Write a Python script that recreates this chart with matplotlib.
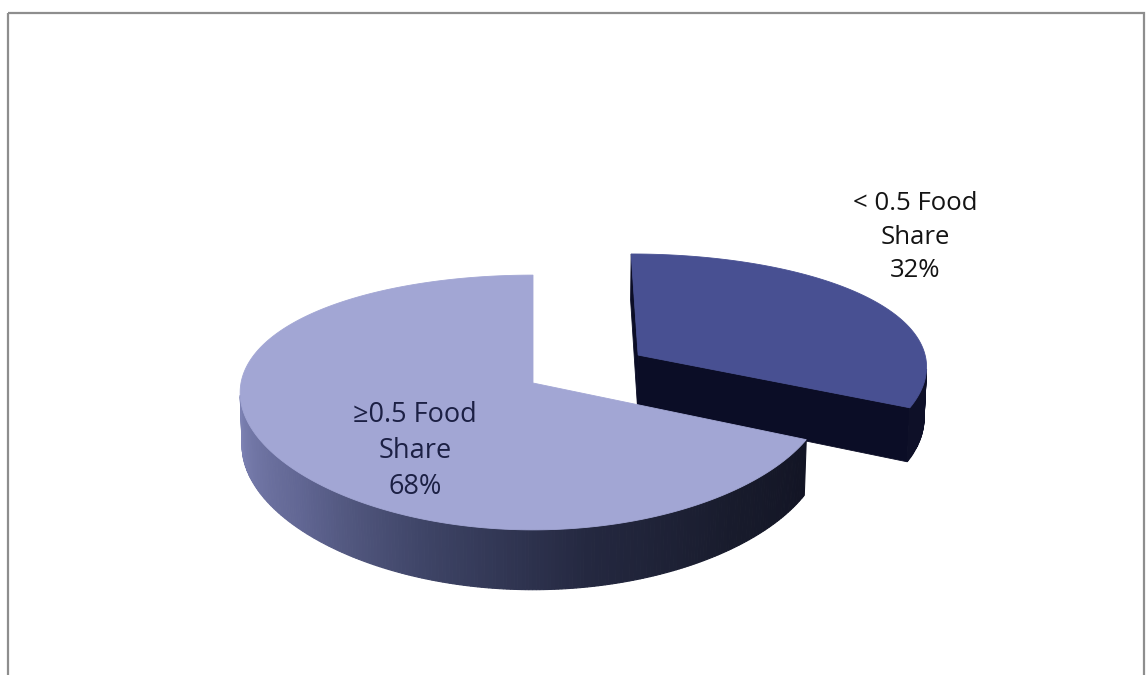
import numpy as np
import matplotlib
matplotlib.use("Agg")
import matplotlib.pyplot as plt
from matplotlib.patches import Polygon, Rectangle

# ---------------- data ----------------
categories = ["< 0.5 Food\nShare", "≥0.5 Food\nShare"]
shares = [32, 68]
pct_labels = ["32%", "68%"]
explode = [0.434, 0.0]

# ---------------- style ----------------
top_colors = [(72, 80, 146), (162, 166, 212)]
cut_colors = [(11, 13, 38), (30, 34, 60)]
# side shading stops (angle in degrees -> colour) per slice
shade_angles = [-270, -190, -180, -140, -110, -80, -50, -25, 90]
shade_cols = [
    [(14, 16, 40)] * 9,
    [(140, 145, 195), (140, 145, 195), (130, 135, 185), (98, 103, 148), (62, 68, 102),
     (36, 40, 64), (24, 27, 44), (18, 20, 36), (18, 20, 36)],
]
label_xy = [(915, 237), (415, 451)]
label_colors = ["#141414", "#1c2044"]
label_sizes = [18.5, 19.5]
label_spacing = [1.46, 1.40]

W, H = 1147, 675
fig = plt.figure(figsize=(W / 100, H / 100), dpi=100)
ax = fig.add_axes([0, 0, 1, 1])
ax.set_xlim(0, W)
ax.set_ylim(H, 0)
ax.axis("off")

# camera / projection
elev = np.deg2rad(24.5)
D = 5.95
fY = 1785.0
Rx = 292.0
px = 0.5
X0, Y0 = 533.0, 383.0
h = 0.196
ce, se = np.cos(elev), np.sin(elev)
C = np.array([0.0, -D * ce, D * se])
dvec = np.array([0.0, ce, -se])
uvec = np.array([0.0, se, ce])


def proj(P):
    P = np.atleast_2d(np.asarray(P, float))
    v = P - C
    depth = v @ dvec
    sy = (v @ uvec) / depth
    X = X0 + Rx * P[:, 0] * (D / depth) ** px
    return np.column_stack([X, Y0 - fY * sy])


def rgb(c):
    return tuple(np.clip(np.array(c, float) / 255.0, 0, 1))


def sarea(p):
    x, y = p[:, 0], p[:, 1]
    return 0.5 * np.sum(x * np.roll(y, -1) - np.roll(x, -1) * y)


total = float(sum(shares))
spans = []
cum = 0.0
for v in shares:
    t0 = 90.0 - 360.0 * cum / total
    t1 = t0 - 360.0 * v / total
    spans.append((t0, t1))
    cum += v

slices = []
for i, (t0, t1) in enumerate(spans):
    mid = np.deg2rad((t0 + t1) / 2)
    off = explode[i] * np.array([np.cos(mid), np.sin(mid), 0.0])
    slices.append((i, t0, t1, off))


def slice_depth(s):
    i, t0, t1, off = s
    mid = np.deg2rad((t0 + t1) / 2)
    P = off + 0.5 * np.array([np.cos(mid), np.sin(mid), 0.0])
    return (P - C) @ dvec


slices.sort(key=slice_depth, reverse=True)

for i, t0, t1, off in slices:
    n = max(int(abs(t0 - t1) * 1.5), 20)
    tdeg = np.linspace(t0, t1, n)
    ts = np.deg2rad(tdeg)
    rim_top = np.column_stack([np.cos(ts), np.sin(ts), np.zeros_like(ts)]) + off
    rim_bot = rim_top - np.array([0, 0, h])
    ctop = off.copy()
    cbot = off - np.array([0, 0, h])

    top = np.vstack([ctop, rim_top])
    top2d = proj(top)
    ref_sign = np.sign(sarea(top2d))

    # cut faces
    for t, first in ((t0, True), (t1, False)):
        tr = np.deg2rad(t)
        pt = off + np.array([np.cos(tr), np.sin(tr), 0.0])
        pb = pt - np.array([0, 0, h])
        quad = np.array([ctop, cbot, pb, pt]) if first else np.array([ctop, pt, pb, cbot])
        q2 = proj(quad)
        if np.sign(sarea(q2)) == ref_sign:
            ax.add_patch(Polygon(q2, closed=True, facecolor=rgb(cut_colors[i]),
                                 edgecolor=rgb(cut_colors[i]), lw=0.6))

    # outer rim
    for k in range(n - 1):
        quad = np.array([rim_top[k], rim_bot[k], rim_bot[k + 1], rim_top[k + 1]])
        q2 = proj(quad)
        if np.sign(sarea(q2)) != ref_sign:
            continue
        am = 0.5 * (tdeg[k] + tdeg[k + 1])
        cols = np.array(shade_cols[i], float)
        col = [np.interp(am, shade_angles, cols[:, c]) for c in range(3)]
        ax.add_patch(Polygon(q2, closed=True, facecolor=rgb(col),
                             edgecolor=rgb(col), lw=0.8))

    # top face
    ax.add_patch(Polygon(top2d, closed=True, facecolor=rgb(top_colors[i]),
                         edgecolor=rgb(top_colors[i]), lw=0.6))

# labels
for i in range(len(shares)):
    ax.text(label_xy[i][0], label_xy[i][1], categories[i] + "\n" + pct_labels[i],
            ha="center", va="center", fontsize=label_sizes[i],
            linespacing=label_spacing[i], color=label_colors[i],
            family=["Open Sans", "DejaVu Sans"])

# chart frame
ax.add_patch(Rectangle((8, 13), 1136, 700, facecolor="none", edgecolor="#8e8e8e",
                       lw=1.6, clip_on=False))

fig.savefig("out.png", dpi=100, facecolor="white")
